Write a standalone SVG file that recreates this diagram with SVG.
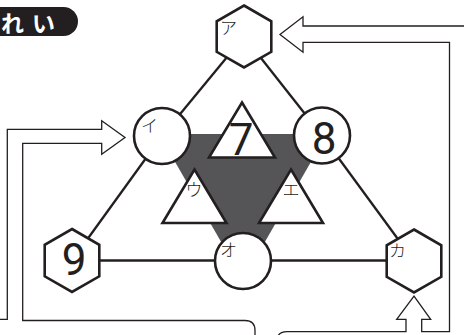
<svg xmlns="http://www.w3.org/2000/svg" width="464" height="335" viewBox="0 0 464 335">
<style>
.node{fill:#fff;stroke:#231f20;stroke-width:2.6}
.edge{stroke:#231f20;stroke-width:2.3;fill:none}
.arrow{fill:#fff;stroke:#231f20;stroke-width:1.3;stroke-linejoin:miter}
.kana{font-family:"Noto Sans CJK JP",sans-serif;font-size:17px;fill:#231f20;font-weight:300}
.num{font-family:Roboto,"Liberation Sans",Arial,sans-serif;font-weight:400;font-size:44px;fill:#231f20;text-anchor:middle}
</style>
<rect width="464" height="335" fill="#fff"/>
<g id="label">
<rect x="-20" y="7" width="98" height="29" rx="14.5" fill="#231f20"/>
<text x="1" y="32" font-family="Noto Sans CJK JP,sans-serif" font-size="23" font-weight="bold" fill="#fff" letter-spacing="8">れい</text>
</g>
<g id="connectors">
<path class="arrow" d="M466,26 H303 V16.7 L280,34.5 L303,52.3 V42.3 H449.5 V331.7 H421.7 V319.3 H430.7 L414,296 L396.7,319.3 H406 V331.7 H287 Q277,331.7 277,341"/>
<path class="arrow" fill="none" d="M-2,319.3 H7.3 V129.3 H101.7 V120.7 L125,137.5 L101.7,154.3 V143.3 H22.7 V320.5 H245 Q255,320.5 255,330.5 V341"/>
<polygon id="shade" points="159,134 327,134 243,280" fill="#555557"/>
<line class="edge" x1="244" y1="36.5" x2="162" y2="136"/>
<line class="edge" x1="244" y1="36.5" x2="322" y2="135.5"/>
<line class="edge" x1="162" y1="136" x2="72" y2="260.5"/>
<line class="edge" x1="322" y1="135.5" x2="414" y2="261"/>
<line class="edge" x1="72" y1="260.5" x2="243" y2="260.5"/>
<line class="edge" x1="243" y1="260.5" x2="414" y2="260.5"/>
</g>
<g id="t7">
<polygon class="node" points="242,102.5 275,157.5 209,157.5"/>
<text class="num" x="241" y="155" font-size="41">7</text>
</g>
<g id="tU">
<polygon class="node" points="194.5,169.5 226.5,223 162.5,223"/>
<text class="kana" x="194" y="196" text-anchor="middle">ウ</text>
</g>
<g id="tE">
<polygon class="node" points="291,169.5 323,223 259,223"/>
<text class="kana" x="291" y="196" text-anchor="middle">エ</text>
</g>
<g id="nA">
<polygon class="node" points="244,5.5 271.3,21.3 271.3,51.8 244,67.5 216.7,51.8 216.7,21.3"/>
<text class="kana" x="220" y="34" font-size="18">ア</text>
</g>
<g id="nI">
<circle class="node" cx="162" cy="136" r="28"/>
<text class="kana" x="141" y="132" font-size="14">イ</text>
</g>
<g id="n8">
<circle class="node" cx="322" cy="135.5" r="28"/>
<text class="num" x="324" y="154" font-size="47">8</text>
</g>
<g id="n9">
<polygon class="node" points="72,229 99.3,244.8 99.3,276.3 72,292 44.7,276.3 44.7,244.8"/>
<text class="num" x="74" y="275" font-size="41">9</text>
</g>
<g id="nO">
<circle class="node" cx="243" cy="261" r="28"/>
<text class="kana" x="220" y="256">オ</text>
</g>
<g id="nKa">
<polygon class="node" points="414,229.5 441.3,245.3 441.3,276.8 414,292.5 386.7,276.8 386.7,245.3"/>
<text class="kana" x="389" y="257">カ</text>
</g>
</svg>
